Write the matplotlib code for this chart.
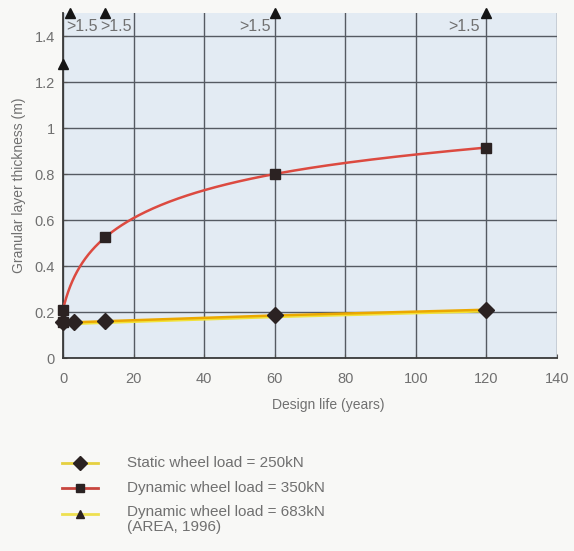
import numpy as np
import matplotlib
matplotlib.use("Agg")
import matplotlib.pyplot as plt
from matplotlib.lines import Line2D

# ---- data ----
static_x = [0, 3, 12, 60, 120]
static_y = [0.155, 0.155, 0.16, 0.185, 0.21]
dyn350_x = [0, 12, 60, 120]
dyn350_y = [0.21, 0.525, 0.80, 0.915]
dyn683_x = [0, 2, 12, 60, 120]
dyn683_y = [1.28, 1.5, 1.5, 1.5, 1.5]
dyn683_labels = ["", ">1.5", ">1.5", ">1.5", ">1.5"]
extra_sq_x = [0]
extra_sq_y = [0.155]
x_ticks = [0, 20, 40, 60, 80, 100, 120, 140]
y_ticks = [0, 0.2, 0.4, 0.6, 0.8, 1.0, 1.2, 1.4]
y_tick_labels = ["0", "0.2", "0.4", "0.6", "0.8", "1", "1.2", "1.4"]
legend_labels = ["Static wheel load = 250kN",
                 "Dynamic wheel load = 350kN",
                 "Dynamic wheel load = 683kN\n(AREA, 1996)"]

plt.rcParams['font.family'] = ['Liberation Sans', 'DejaVu Sans']
TXT = '#707070'
MK = '#2b2222'
RED = '#dc4a40'
ORANGE = '#eba800'
YEL = '#f2e23a'

fig = plt.figure(figsize=(5.74, 5.51), dpi=100, facecolor='#f8f8f6')
ax = fig.add_axes([63/574, 1-358/551, (557-63)/574, (358-13)/551])
ax.set_facecolor('#e3ebf3')
ax.set_xlim(0, 140)
ax.set_ylim(0, 1.5)

ax.set_xticks(x_ticks)
ax.set_yticks(y_ticks)
ax.set_yticklabels(y_tick_labels)
ax.tick_params(colors='#555555', labelcolor=TXT, labelsize=10.5, length=3,
               direction='in')
ax.tick_params(axis='y', pad=6)
ax.tick_params(axis='x', pad=10)
ax.grid(True, color='#555a62', linewidth=1.0)
ax.set_axisbelow(True)
for s in ['top', 'right']:
    ax.spines[s].set_visible(False)
for s in ['left', 'bottom']:
    ax.spines[s].set_color('#3a3a3a')
    ax.spines[s].set_linewidth(1.3)

# smooth drawing of the dynamic-350 line: monotone cubic through the read
# points, evaluated in a log-stretched x space (drawing only)
def pchip(xs, ys, xq):
    xs = np.asarray(xs, float); ys = np.asarray(ys, float)
    h = np.diff(xs); d = np.diff(ys) / h
    m = np.zeros_like(ys)
    for k in range(1, len(xs) - 1):
        if d[k-1] * d[k] > 0:
            w1 = 2*h[k] + h[k-1]; w2 = h[k] + 2*h[k-1]
            m[k] = (w1 + w2) / (w1/d[k-1] + w2/d[k])
    m[0] = d[0]
    m[-1] = d[-1]
    out = np.empty_like(xq)
    for i, x in enumerate(xq):
        k = min(np.searchsorted(xs, x, side='right') - 1, len(xs) - 2)
        t = (x - xs[k]) / h[k]
        h00 = 2*t**3 - 3*t**2 + 1; h10 = t**3 - 2*t**2 + t
        h01 = -2*t**3 + 3*t**2; h11 = t**3 - t**2
        out[i] = h00*ys[k] + h10*h[k]*m[k] + h01*ys[k+1] + h11*h[k]*m[k+1]
    return out

ux = np.log1p(np.asarray(dyn350_x, float) / 3.0)
uq = np.linspace(0, ux[-1], 400)
yq = pchip(ux, dyn350_y, uq)
ax.plot(3.0*np.expm1(uq), yq, color=RED, lw=1.8, zorder=3)
ax.plot(dyn350_x, dyn350_y, ls='none', marker='s', ms=7, color=MK, zorder=5,
        clip_on=False)

# static
ax.plot(static_x, np.array(static_y) - 0.006, color=YEL, lw=2.0, zorder=3)
ax.plot(static_x, static_y, color=ORANGE, lw=1.8, zorder=3)
ax.plot(static_x, static_y, ls='none', marker='D', ms=8, color=MK, zorder=5,
        clip_on=False)
ax.plot(extra_sq_x, extra_sq_y, ls='none', marker='s', ms=7, color=MK,
        zorder=5, clip_on=False)

# dynamic 683 (off-scale markers)
ax.plot(dyn683_x, dyn683_y, ls='none', marker='^', ms=7, color='#151515',
        zorder=6, clip_on=False)
label_offsets = [0, 28, 26, -4, -7]
for x, y, lab, off in zip(dyn683_x, dyn683_y, dyn683_labels, label_offsets):
    if lab:
        ax.annotate(lab, (x, 1.44), xytext=(off, 0), textcoords='offset pixels',
                    ha='right', va='center', fontsize=11.5, color=TXT,
                    annotation_clip=False)

ax.set_ylabel("Granular layer thickness (m)", color=TXT, fontsize=10,
              labelpad=6)
fig.text(328/574, 1-405/551, "Design life (years)", color=TXT, fontsize=10,
         ha='center', va='center')

# custom legend
rows = [(463, '#e6d040'), (488, '#c8463e'), (514, '#eee050')]
markers = ['D', 's', '^']
for (py, lc), mk, lab in zip(rows, markers, legend_labels):
    yf = 1 - py/551
    fig.add_artist(Line2D([62/574, 98/574], [yf, yf], color=lc, lw=2.0,
                          transform=fig.transFigure))
    fig.add_artist(Line2D([80/574], [yf], marker=mk, ms=6 if mk != 'D' else 7,
                          color=MK, ls='none', transform=fig.transFigure))
    if '\n' in lab:
        fig.text(127/574, 1 - 505/551, lab, color=TXT, fontsize=11,
                 ha='left', va='top', linespacing=1.05)
    else:
        fig.text(127/574, yf, lab, color=TXT, fontsize=11,
                 ha='left', va='center')

fig.savefig("out.png", dpi=100, facecolor=fig.get_facecolor())
